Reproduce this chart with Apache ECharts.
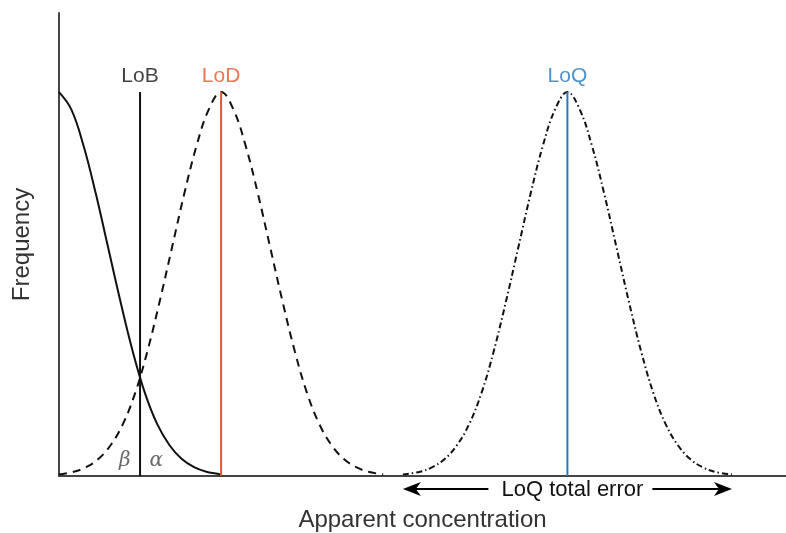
<!DOCTYPE html>
<html>
<head>
<meta charset="utf-8">
<script src="https://cdn.jsdelivr.net/npm/echarts@6/dist/echarts.min.js"></script>
<style>html,body{margin:0;padding:0;background:#fff;}#c{width:786px;height:533px;}</style>
</head>
<body>
<div id="c"></div>
<script>
// Blank distribution (half curve starting at 0)
var blankX = [0, 0.25, 0.5, 0.75, 1.0, 1.25, 1.5, 1.75, 2.0, 2.25, 2.5, 2.75, 3.0, 3.25, 3.32];
var blankY = [1.0, 0.955, 0.86, 0.735, 0.595, 0.455, 0.325, 0.216, 0.135, 0.08, 0.044, 0.023, 0.011, 0.005, 0.0];
// LoD distribution (dashed)
var lodX = [0, 0.3, 0.55, 0.8, 1.05, 1.3, 1.55, 1.8, 2.05, 2.3, 2.55, 2.8, 3.05, 3.3, 3.55, 3.8, 4.05, 4.3, 4.55, 4.8, 5.05, 5.3, 5.55, 5.8, 6.05, 6.3, 6.6];
var lodY = [0.004, 0.011, 0.023, 0.044, 0.08, 0.135, 0.216, 0.325, 0.455, 0.595, 0.735, 0.86, 0.955, 1.0, 0.955, 0.86, 0.735, 0.595, 0.455, 0.325, 0.216, 0.135, 0.08, 0.044, 0.023, 0.011, 0.004];
// LoQ distribution (dash-dot)
var loqX = [7.0, 7.35, 7.6, 7.85, 8.1, 8.35, 8.6, 8.85, 9.1, 9.35, 9.6, 9.85, 10.1, 10.35, 10.6, 10.85, 11.1, 11.35, 11.6, 11.85, 12.1, 12.35, 12.6, 12.85, 13.1, 13.35, 13.7];
var loqY = [0.004, 0.011, 0.023, 0.044, 0.08, 0.135, 0.216, 0.325, 0.455, 0.595, 0.735, 0.86, 0.955, 1.0, 0.955, 0.86, 0.735, 0.595, 0.455, 0.325, 0.216, 0.135, 0.08, 0.044, 0.023, 0.011, 0.004];
// Limit lines
var limitNames = ['LoB', 'LoD', 'LoQ'];
var limitX = [1.65, 3.3, 10.35];
var limitTop = [1.0, 1.0, 1.0];
// Tail annotations
var greekNames = ['β', 'α'];
var greekX = [1.34, 1.98];
var greekY = [0.04, 0.04];
// Total error span
var errorSpan = [7.0, 13.7];
var errorLabel = 'LoQ total error';

var limitColors = ['#111111', '#e2572b', '#2478bd'];
var FONT = 'Liberation Sans, Arial, sans-serif';

function zip(xs, ys) { return xs.map(function (x, i) { return [x, ys[i]]; }); }

var series = [
  { type: 'line', data: zip(blankX, blankY), smooth: 0.4, symbol: 'none',
    lineStyle: { color: '#111', width: 2 } },
  { type: 'line', data: zip(lodX, lodY), smooth: 0.4, symbol: 'none',
    lineStyle: { color: '#111', width: 2, type: [8, 6] } },
  { type: 'line', data: zip(loqX, loqY), smooth: 0.4, symbol: 'none',
    lineStyle: { color: '#111', width: 2, type: [6, 3, 1.5, 3] } }
];
limitX.forEach(function (x, i) {
  series.push({ type: 'line', data: [[x, 0], [x, limitTop[i]]], symbol: 'none',
    lineStyle: { color: limitColors[i], width: 2 }, z: 3 });
});
series.push({
  type: 'scatter', symbolSize: 0.1, itemStyle: { color: 'rgba(0,0,0,0)' },
  data: limitX.map(function (x, i) {
    return { value: [x, limitTop[i]], label: { show: true, position: 'top', distance: 5,
      formatter: limitNames[i], color: limitColors[i], fontSize: 21, fontFamily: FONT } };
  })
});
series.push({
  type: 'scatter', symbolSize: 0.1, itemStyle: { color: 'rgba(0,0,0,0)' },
  data: greekX.map(function (x, i) {
    return { value: [x, greekY[i]], label: { show: true, position: 'inside',
      formatter: greekNames[i], color: '#444', fontSize: 20, fontStyle: 'italic', fontFamily: 'DejaVu Serif, Liberation Serif, serif' } };
  })
});

var chart = echarts.init(document.getElementById('c'), null, { renderer: 'canvas' });
chart.setOption({
  animation: false,
  backgroundColor: '#ffffff',
  grid: { left: 59, right: 0, top: 13, bottom: 57, containLabel: false, outerBoundsMode: 'none' },
  xAxis: {
    type: 'value', min: 0, max: 14.8,
    name: 'Apparent concentration', nameLocation: 'middle', nameGap: 32,
    nameTextStyle: { fontSize: 24, color: '#333', fontFamily: FONT },
    axisLine: { lineStyle: { color: '#444', width: 2 } },
    axisTick: { show: false }, axisLabel: { show: false }, splitLine: { show: false }
  },
  yAxis: {
    type: 'value', min: 0, max: 1.206,
    name: 'Frequency', nameLocation: 'middle', nameGap: 25,
    nameTextStyle: { fontSize: 24, color: '#333', fontFamily: FONT },
    axisLine: { show: true, lineStyle: { color: '#444', width: 2 } },
    axisTick: { show: false }, axisLabel: { show: false }, splitLine: { show: false }
  },
  series: series
});

// Arrow annotation below the axis
var pL = chart.convertToPixel({ gridIndex: 0 }, [errorSpan[0], 0]);
var pR = chart.convertToPixel({ gridIndex: 0 }, [errorSpan[1], 0]);
var pC = chart.convertToPixel({ gridIndex: 0 }, [limitX[2], 0]);
var ay = pL[1] + 13;
function head(tipX, dir) {
  return { type: 'polygon', shape: { points: [
    [tipX, ay], [tipX + dir * 18, ay - 7], [tipX + dir * 13, ay], [tipX + dir * 18, ay + 7]
  ] }, style: { fill: '#000' } };
}
chart.setOption({
  graphic: [
    { type: 'line', shape: { x1: pL[0] + 12, y1: ay, x2: pC[0] - 79, y2: ay }, style: { stroke: '#000', lineWidth: 2 } },
    head(pL[0], 1),
    { type: 'line', shape: { x1: pC[0] + 85, y1: ay, x2: pR[0] - 12, y2: ay }, style: { stroke: '#000', lineWidth: 2 } },
    head(pR[0], -1),
    { type: 'text', x: pC[0] + 5, y: ay + 1, style: { text: errorLabel, fill: '#111', fontSize: 22,
      fontFamily: FONT, textAlign: 'center', textVerticalAlign: 'middle' } }
  ]
});
</script>
</body>
</html>
